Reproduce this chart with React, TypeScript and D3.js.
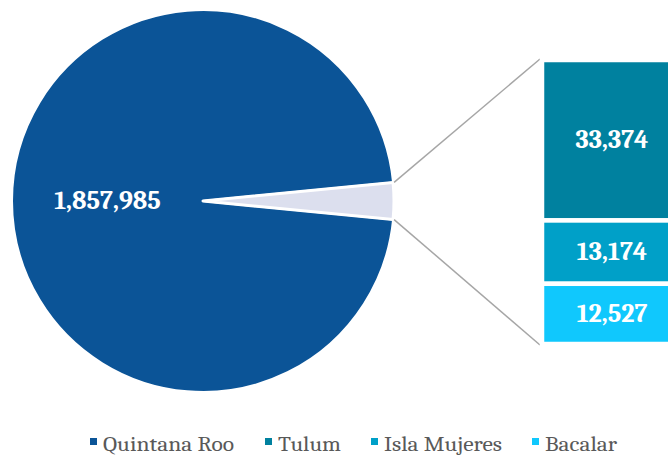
import React from "react";
import * as d3 from "d3";

const pieCategories = ["Quintana Roo", "Otros"];
const pieValues = [1857985, 59075];
const barCategories = ["Tulum", "Isla Mujeres", "Bacalar"];
const barValues = [33374, 13174, 12527];
const legendLabels = ["Quintana Roo", "Tulum", "Isla Mujeres", "Bacalar"];
const legendColors = ["#0B5497", "#00819F", "#00A0C8", "#10C8FD"];

const W = 668, H = 456;
const cx = 203, cy = 201, R = 191;
const fmt = d3.format(",");

export default function App() {
  const frac = pieValues[1] / d3.sum(pieValues);
  const a = frac * 2 * Math.PI;
  const start = Math.PI / 2 + a / 2;
  const pie = d3.pie<number>().sort(null).startAngle(start).endAngle(start + 2 * Math.PI);
  const arcs = pie(pieValues);
  const arc = d3.arc<d3.PieArcDatum<number>>().innerRadius(0).outerRadius(R);
  const pieColors = ["#0B5497", "#DCDFEE"];

  const barX0 = 542, barX1 = 682;
  const y = d3.scaleLinear().domain([0, d3.sum(barValues)]).range([60, 344]);
  let acc = 0;
  const bars = barValues.map((v, i) => {
    const y0 = y(acc);
    acc += v;
    const y1 = y(acc);
    return { v, i, y0, y1 };
  });

  const other = arcs[1];
  const pt = (ang: number, r: number) => [cx + r * Math.sin(ang), cy - r * Math.cos(ang)];
  const pTop = pt(other.startAngle, R + 1);
  const pBot = pt(other.endAngle, R + 1);

  const legendX = [90, 265, 371, 532];
  const legendW = [131, 63, 118, 72];
  const serif = "Cambria, Caladea, 'Liberation Serif', 'DejaVu Serif', serif";

  return (
    <svg width={W} height={H} style={{ position: "absolute", left: 0, top: 0, background: "#fff" }}>
      <g transform={`translate(${cx},${cy})`}>
        {arcs.map((d, i) => (
          <path key={pieCategories[i]} d={arc(d) || ""} fill={pieColors[i]} stroke="#fff" strokeWidth={i === 1 ? 3 : 2} strokeLinejoin="round" />
        ))}
        <text
          x={arc.centroid(arcs[0])[0]}
          y={arc.centroid(arcs[0])[1]}
          textAnchor="middle"
          dominantBaseline="central"
          fill="#fff"
          fontFamily={serif}
          fontWeight="bold"
          fontSize={26}
        >
          {fmt(pieValues[0])}
        </text>
      </g>
      <line x1={pTop[0]} y1={pTop[1]} x2={barX0 - 2} y2={y(0) - 1} stroke="#A6A6A6" strokeWidth={1.5} />
      <line x1={pBot[0]} y1={pBot[1]} x2={barX0 - 2} y2={y(d3.sum(barValues)) + 1} stroke="#A6A6A6" strokeWidth={1.5} />
      {bars.map((b) => (
        <g key={barCategories[b.i]}>
          <rect x={barX0} y={b.y0} width={barX1 - barX0} height={b.y1 - b.y0} fill={legendColors[b.i + 1]} stroke="#fff" strokeWidth={4.5} />
          <text
            x={(barX0 + barX1) / 2}
            y={(b.y0 + b.y1) / 2}
            textAnchor="middle"
            dominantBaseline="central"
            fill="#fff"
            fontFamily={serif}
            fontWeight="bold"
            fontSize={26}
          >
            {fmt(b.v)}
          </text>
        </g>
      ))}
      {legendLabels.map((l, i) => (
        <g key={l} transform={`translate(${legendX[i]},0)`}>
          <rect x={0} y={438} width={7} height={7} fill={legendColors[i]} />
          <text
            x={13}
            y={451}
            fill="#595959"
            fontFamily={serif}
            fontSize={21}
            textLength={legendW[i]}
            lengthAdjust="spacingAndGlyphs"
          >
            {l}
          </text>
        </g>
      ))}
    </svg>
  );
}
